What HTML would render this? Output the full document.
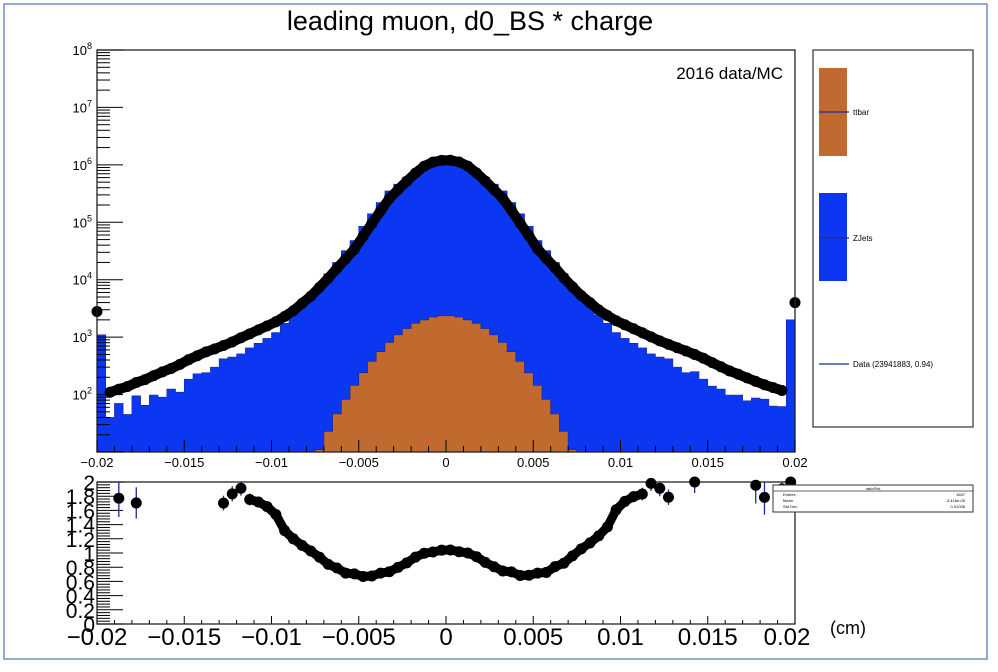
<!DOCTYPE html>
<html><head><meta charset="utf-8"><style>
html,body{margin:0;padding:0;background:#fff;}
svg{display:block;font-family:"Liberation Sans",Arial,sans-serif;}
</style></head><body>
<svg id="chart" width="998" height="672" viewBox="0 0 998 672">
<rect x="4" y="4" width="983" height="655" fill="#fff" stroke="#6d8fc4" stroke-width="1.5"/>
<text x="470" y="30" font-size="27" text-anchor="middle">leading muon, d0_BS * charge</text>
<g id="mainPlot"></g>
<g id="ratioPlot"></g>
<text x="783" y="79" font-size="17" text-anchor="end">2016 data/MC</text>
<g>
<rect x="813" y="50" width="160" height="377" fill="#fff" stroke="#333" stroke-width="1.2"/>
<g>
<rect x="819" y="68" width="28" height="88" fill="#c06a30"/>
<line x1="819" y1="112" x2="849" y2="112" stroke="#1a2aa0" stroke-width="1.2"/>
<text x="853" y="115" font-size="8">ttbar</text></g>
<g>
<rect x="819" y="193" width="28" height="88" fill="#0b37f2"/>
<line x1="819" y1="238" x2="849" y2="238" stroke="#1a2aa0" stroke-width="1.2"/>
<text x="853" y="241" font-size="8">ZJets</text></g>
<g>
<line x1="819" y1="364" x2="849" y2="364" stroke="#1a2aa0" stroke-width="1.2"/>
<text x="853" y="367" font-size="8">Data (23941883, 0.94)</text></g>
</g>
<g>
<rect x="773" y="485" width="200" height="27" fill="#fff" stroke="#333" stroke-width="1"/>
<line x1="773" y1="491" x2="973" y2="491" stroke="#333" stroke-width="0.8"/>
<text x="873" y="490" font-size="4" text-anchor="middle">ratioPlot</text>
<text x="783" y="496" font-size="4">Entries</text><text x="965" y="496" font-size="4" text-anchor="end">1637</text>
<text x="783" y="502" font-size="4">Mean</text><text x="965" y="502" font-size="4" text-anchor="end">-3.416e-05</text>
<text x="783" y="508" font-size="4">Std Dev</text><text x="965" y="508" font-size="4" text-anchor="end">0.01035</text>
</g>
<text x="830" y="634" font-size="18">(cm)</text>
</svg>
<script>
// 80 bins of width 0.0005 from -0.02 to 0.02 (edge bins hold the under/overflow-like spikes)
const binLow = -0.02, binWidth = 0.0005, nBins = 80;
const dataCounts = [2800,110,124,138,162,182,214,248,285,335,405,475,555,625,715,825,975,1140,1340,1570,1850,2290,2880,3880,5150,7350,10600,15800,23000,34000,57000,95000,158000,258000,368000,518000,718000,948000,1118000,1198000,
 1202000,1122000,952000,722000,522000,372000,262000,162000,96000,58500,34500,23300,16200,10800,7500,5300,4000,2980,2380,1930,1640,1400,1190,1010,860,750,655,575,500,430,360,305,258,226,195,170,148,132,118,4000];
const zjetsVals = [1100,40,70,45,95,65,98,90,125,110,185,230,240,300,420,450,510,650,780,950,1200,1740,2400,3500,5000,7800,12600,20000,32000,48000,85000,140000,220000,350000,460000,600000,760000,950000,1100000,1150000,
 1150000,1100000,950000,760000,600000,460000,350000,220000,140000,85000,48000,32000,20000,12600,7800,5000,3500,2400,1740,1200,950,780,650,510,450,420,300,240,250,185,140,125,98,98,78,87,83,63,62,2000];
const ttbarVals = [0,0,0,0,0,0,0,0,0,0,0,0,0,0,0,0,0,0,0,0,0,0,0,3,6,11,23,46,83,145,240,380,560,810,1100,1410,1740,2000,2240,2350,
 2350,2240,2000,1740,1410,1100,810,560,380,240,145,83,46,23,11,6,3,0,0,0,0,0,0,0,0,0,0,0,0,0,0,0,0,0,0,0,0,0,0,0];
const xTickLabels = ["-0.02","-0.015","-0.01","-0.005","0","0.005","0.01","0.015","0.02"];
const xTickValues = [-0.02,-0.015,-0.01,-0.005,0,0.005,0.01,0.015,0.02];
const yDecades = [1,2,3,4,5,6,7,8];
const ratioTickValues = [0,0.2,0.4,0.6,0.8,1,1.2,1.4,1.6,1.8,2];

const NS = "http://www.w3.org/2000/svg";
const X0 = 97, X1 = 795, YT = 50, YB = 452, RT = 482, RB = 624;
function xS(v){ return X0 + (v - binLow) / 0.04 * (X1 - X0); }
function yS(v){ const l = Math.log10(Math.max(v, 1)); return Math.max(YT, Math.min(YB, YB - (l - 1) / 7 * (YB - YT))); }
function rS(r){ return RB - r / 2 * (RB - RT); }
function mk(tag, attrs, parent){ const e = document.createElementNS(NS, tag); for (const k in attrs) e.setAttribute(k, attrs[k]); parent.appendChild(e); return e; }

const main = document.getElementById('mainPlot');
const ratioG = document.getElementById('ratioPlot');

function stepPath(vals){
  let d = "M" + xS(binLow) + "," + YB;
  for (let i = 0; i < nBins; i++){
    const xa = xS(binLow + i * binWidth), xb = xS(binLow + (i + 1) * binWidth), y = yS(vals[i]);
    d += " L" + xa + "," + y + " L" + xb + "," + y;
  }
  return d + " L" + xS(binLow + nBins * binWidth) + "," + YB + " Z";
}
const stackTop = zjetsVals.map((v, i) => v + ttbarVals[i]);
const zp = mk('path', {d: stepPath(stackTop), fill: '#0b37f2', stroke: '#1a2a90', 'stroke-width': 0.6}, main);


const tp = mk('path', {d: stepPath(ttbarVals), fill: '#c06a30', stroke: '#1a2a90', 'stroke-width': 0.7}, main);



// dense data band (markers overlap in the original fine binning)
let dd = "";
for (let i = 1; i < nBins - 1; i++){
  dd += (i === 1 ? "M" : " L") + xS(binLow + (i + 0.5) * binWidth) + "," + yS(dataCounts[i]);
}
const band = mk('path', {d: dd, fill: 'none', stroke: '#000', 'stroke-width': 10, 'stroke-linejoin': 'round', 'stroke-linecap': 'round'}, main);


for (let i = 0; i < nBins; i++){
  const cx = (i === 0) ? xS(-0.02) : (i === nBins - 1 ? xS(0.02) : xS(binLow + (i + 0.5) * binWidth));
  const c = mk('circle', {cx: cx, cy: yS(dataCounts[i]), r: 5.5, fill: '#000'}, main);
  
  
}

mk('rect', {x: X0, y: YT, width: X1 - X0, height: YB - YT, fill: 'none', stroke: '#222', 'stroke-width': 1.3}, main);
yDecades.forEach(d => {
  const y = yS(Math.pow(10, d));
  mk('line', {x1: X0, y1: y, x2: X0 + 26, y2: y, stroke: '#000', 'stroke-width': 1}, main);
  if (d >= 2){
    const t = mk('text', {x: X0 - 5, y: y + 5, 'font-size': 13, 'text-anchor': 'end'}, main);
    t.textContent = '10';
    
    
    const s = mk('tspan', {dy: -6, 'font-size': 9}, t); s.textContent = String(d);
  }
  if (d < 8) for (let m = 2; m <= 9; m++){
    const ym = yS(m * Math.pow(10, d));
    mk('line', {x1: X0, y1: ym, x2: X0 + 13, y2: ym, stroke: '#000', 'stroke-width': 1}, main);
  }
});
for (let k = 0; k <= 40; k++){
  const x = xS(-0.02 + k * 0.001);
  const major = k % 5 === 0;
  mk('line', {x1: x, y1: YB, x2: x, y2: YB - (major ? 12 : 6), stroke: '#000', 'stroke-width': 1}, main);
  mk('line', {x1: x, y1: RB, x2: x, y2: RB - (major ? 8 : 4), stroke: '#000', 'stroke-width': 1}, ratioG);
}
xTickValues.forEach((v, i) => {
  const t = mk('text', {x: xS(v), y: 467, 'font-size': 13, 'text-anchor': 'middle'}, main);
  t.textContent = xTickLabels[i].replace('-', '\u2212');
  
  
  const t2 = mk('text', {x: xS(v) - (v === 0.02 ? 8 : 0), y: 645, 'font-size': 24, 'text-anchor': 'middle'}, ratioG);
  t2.textContent = xTickLabels[i].replace('-', '\u2212');
  
  
});

mk('rect', {x: X0, y: RT, width: X1 - X0, height: RB - RT, fill: 'none', stroke: '#222', 'stroke-width': 1.3}, ratioG);
for (let k = 0; k <= 50; k++){
  const r = k * 0.04, y = rS(r);
  const major = k % 5 === 0;
  mk('line', {x1: X0, y1: y, x2: X0 + (major ? 26 : 13), y2: y, stroke: '#000', 'stroke-width': 1}, ratioG);
}
ratioTickValues.forEach(r => {
  const t = mk('text', {x: X0 - 2, y: rS(r) + 8, 'font-size': 21, 'text-anchor': 'end'}, ratioG);
  t.textContent = String(r);
  
  
});
let prev = null;
for (let i = 0; i < nBins; i++){
  const mc = zjetsVals[i] + ttbarVals[i];
  if (mc <= 0) { prev = null; continue; }
  const r = dataCounts[i] / mc;
  const err = r * Math.sqrt(1 / dataCounts[i] + 1 / mc);
  const cx = xS(binLow + (i + 0.5) * binWidth);
  if (r > 2 || r < 0) { prev = null; continue; }
  if (prev && err < 0.1){
    const seg = mk('line', {x1: prev[0], y1: prev[1], x2: cx, y2: rS(r), stroke: '#000', 'stroke-width': 9, 'stroke-linecap': 'round'}, ratioG);
    
    
  }
  prev = err < 0.1 ? [cx, rS(r)] : null;
  mk('line', {x1: cx, y1: rS(Math.min(2, r + err)), x2: cx, y2: rS(Math.max(0, r - err)), stroke: '#1a2aa0', 'stroke-width': 1.3}, ratioG);
  const c = mk('circle', {cx: cx, cy: rS(r), r: 5.5, fill: '#000'}, ratioG);
  
  
}
</script>
</body></html>
